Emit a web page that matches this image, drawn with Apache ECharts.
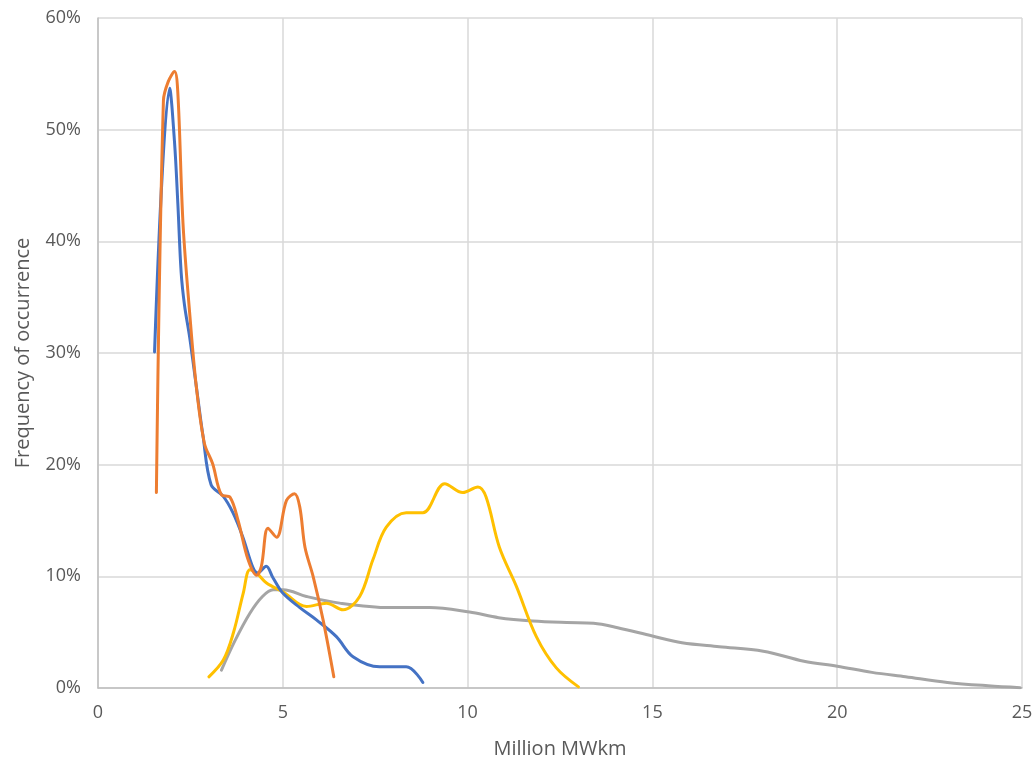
<!DOCTYPE html>
<html>
<head>
<meta charset="utf-8">
<script src="https://cdn.jsdelivr.net/npm/echarts@6/dist/echarts.min.js"></script>
<style>html,body{margin:0;padding:0;background:#fff}#c{width:1032px;height:762px}</style>
</head>
<body>
<div id="c"></div>
<script>
const xTicks = [0, 5, 10, 15, 20, 25];
const yTicks = [0, 10, 20, 30, 40, 50, 60];

const blueX = [1.53, 1.94, 2.07, 2.16, 2.25, 2.34, 2.48, 2.66, 2.84, 3.06, 3.38, 3.65, 3.92, 4.19, 4.32, 4.55, 4.73, 5.0, 5.46, 5.91, 6.45, 6.9, 7.62, 8.34, 8.79];
const blueY = [30.1, 53.7, 48.9, 43.4, 37.2, 34.3, 31.4, 27.0, 22.6, 18.2, 17.2, 15.7, 13.5, 10.8, 10.3, 10.9, 9.9, 8.5, 7.2, 6.1, 4.6, 2.8, 1.9, 1.9, 0.5];

const orangeX = [1.58, 1.77, 1.9, 2.07, 2.16, 2.3, 2.48, 2.66, 2.88, 3.1, 3.34, 3.57, 3.79, 4.06, 4.29, 4.42, 4.6, 4.83, 5.1, 5.32, 5.46, 5.6, 5.82, 6.09, 6.38];
const orangeY = [17.5, 52.6, 54.3, 55.2, 53.3, 41.6, 33.6, 27.0, 21.9, 20.1, 17.3, 17.1, 15.0, 11.5, 10.1, 10.9, 14.3, 13.5, 16.8, 17.4, 16.2, 12.6, 10.0, 6.1, 1.0];

const grayX = [3.34, 3.7, 4.11, 4.45, 4.74, 5.01, 5.64, 6.54, 7.89, 8.97, 10.05, 10.84, 11.76, 12.68, 13.41, 14.06, 15.0, 15.8, 16.81, 18.0, 19.1, 20.0, 20.94, 21.85, 22.98, 24.08, 24.95];
const grayY = [1.6, 4.2, 6.7, 8.2, 8.8, 8.8, 8.2, 7.6, 7.2, 7.2, 6.8, 6.3, 6.0, 5.86, 5.8, 5.4, 4.65, 4.05, 3.7, 3.3, 2.4, 1.95, 1.4, 1.0, 0.5, 0.2, 0.03];

const yellowX = [3.0, 3.39, 3.66, 3.93, 4.11, 4.29, 4.56, 5.01, 5.64, 6.18, 6.63, 7.08, 7.44, 7.8, 8.34, 8.79, 9.38, 9.87, 10.28, 10.5, 10.86, 11.32, 11.86, 12.4, 13.0];
const yellowY = [1.0, 2.5, 4.9, 8.5, 10.6, 10.3, 9.4, 8.6, 7.3, 7.6, 7.0, 8.2, 11.5, 14.4, 15.7, 15.7, 18.3, 17.5, 18.0, 17.1, 12.6, 9.1, 4.6, 1.8, 0.1];

function pairs(xs, ys) { return xs.map((x, i) => [x, ys[i]]); }
function line(name, xs, ys, color) {
  return {
    name: name, type: 'line', data: pairs(xs, ys), smooth: 0.35,
    showSymbol: false, symbol: 'none',
    lineStyle: { color: color, width: 3, cap: 'round', join: 'round' },
    itemStyle: { color: color }
  };
}

const font = 'Open Sans';
const chart = echarts.init(document.getElementById('c'), null, { renderer: 'canvas' });
chart.setOption({
  animation: false,
  backgroundColor: '#ffffff',
  grid: { left: 98, right: 10, top: 18, bottom: 74, containLabel: false, outerBoundsMode: 'none' },
  xAxis: {
    type: 'value', min: xTicks[0], max: xTicks[xTicks.length - 1], interval: 5,
    name: 'Million MWkm', nameLocation: 'middle', nameGap: 51,
    nameTextStyle: { fontFamily: font, fontSize: 20, color: '#595959' },
    axisLine: { show: true, lineStyle: { color: '#bfbfbf', width: 1.5 } },
    axisTick: { show: false },
    axisLabel: { fontFamily: font, fontSize: 18, color: '#595959', margin: 16 },
    splitLine: { show: true, lineStyle: { color: '#d9d9d9', width: 1.5 } }
  },
  yAxis: {
    type: 'value', min: yTicks[0], max: yTicks[yTicks.length - 1], interval: 10,
    name: 'Frequency of occurrence', nameLocation: 'middle', nameGap: 65,
    nameTextStyle: { fontFamily: font, fontSize: 20, color: '#595959' },
    axisLine: { show: true, lineStyle: { color: '#bfbfbf', width: 1.5 } },
    axisTick: { show: false },
    axisLabel: { fontFamily: font, fontSize: 18, color: '#595959', margin: 17, formatter: '{value}%' },
    splitLine: { show: true, lineStyle: { color: '#d9d9d9', width: 1.5 } }
  },
  series: [
    line('Gray', grayX, grayY, '#a5a5a5'),
    line('Yellow', yellowX, yellowY, '#ffc000'),
    line('Blue', blueX, blueY, '#4472c4'),
    line('Orange', orangeX, orangeY, '#ed7d31')
  ]
});
</script>
</body>
</html>
